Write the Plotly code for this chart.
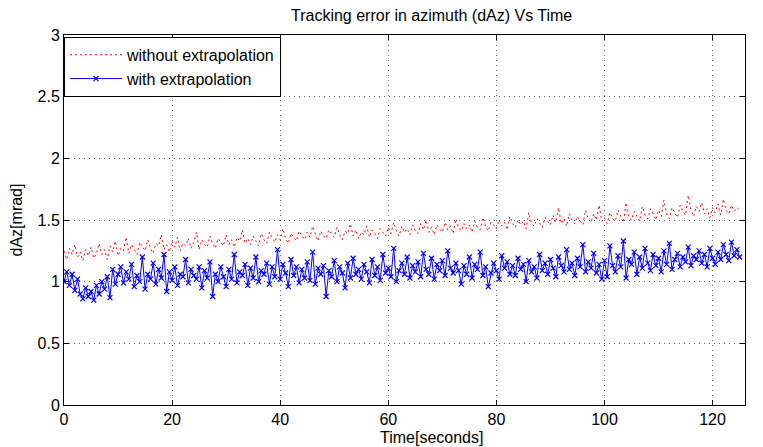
import plotly.graph_objects as go

# time samples (seconds), 0.5 s step
time_s = [i * 0.5 for i in range(251)]

dAz_with = [
    1.00, 1.08, 0.97, 1.06, 0.93, 1.02, 0.90, 0.86, 0.95, 0.88,
    0.92, 0.85, 0.97, 0.90, 1.00, 0.94, 1.04, 0.87, 1.10, 0.98,
    1.06, 1.12, 0.99, 1.08, 1.02, 1.14, 0.96, 1.05, 1.00, 1.20,
    0.94, 1.06, 1.02, 1.15, 0.98, 1.10, 1.03, 1.22, 0.92, 1.08,
    1.01, 1.12, 0.97, 1.06, 1.04, 1.18, 0.99, 1.10, 1.05, 1.02,
    1.12, 0.95, 1.09, 1.03, 1.16, 0.88, 1.06, 1.00, 1.12, 1.04,
    0.96, 1.10, 1.02, 1.22, 0.99, 1.08, 1.05, 1.14, 0.97, 1.11,
    1.03, 1.20, 1.00, 1.09, 1.06, 1.15, 0.98, 1.12, 1.04, 1.26,
    1.02, 1.14, 1.07, 0.96, 1.18, 1.05, 1.12, 0.99, 1.10, 1.03,
    1.16, 1.01, 1.24, 0.98, 1.11, 1.06, 1.13, 0.88, 1.09, 1.04,
    1.17, 1.00, 1.12, 1.07, 0.95, 1.15, 1.03, 1.19, 1.06, 1.10,
    1.02, 1.14, 1.08, 0.99, 1.18, 1.05, 1.12, 1.01, 1.22, 1.07,
    1.11, 1.04, 1.27, 1.00, 1.09, 1.15, 1.06, 1.20, 1.03, 1.13,
    1.08, 1.16, 1.04, 1.23, 1.10, 1.06, 1.19, 1.02, 1.14, 1.09,
    1.17, 1.05, 1.25, 1.11, 1.07, 1.15, 1.09, 0.98, 1.13, 1.06,
    1.20, 1.03, 1.14, 1.10, 1.24, 1.05, 1.12, 0.96, 1.07, 1.15,
    1.09, 1.02, 1.21, 1.11, 1.16, 1.06, 1.13, 1.05, 1.19, 1.10,
    1.14, 1.00, 1.17, 1.08, 1.12, 1.03, 1.22, 1.09, 1.15, 1.06,
    1.18, 1.11, 1.04, 1.20, 1.13, 1.08, 1.26, 1.10, 1.15, 1.05,
    1.19, 1.12, 1.30, 1.08, 1.16, 1.11, 1.23, 1.07, 1.14, 1.02,
    1.17, 1.04, 1.29, 1.13, 1.08, 1.21, 1.12, 1.33, 1.03, 1.18,
    1.14, 1.24, 1.06, 1.20, 1.11, 1.27, 1.15, 1.09, 1.22, 1.13,
    1.19, 1.08, 1.25, 1.14, 1.31, 1.10, 1.18, 1.23, 1.12, 1.20,
    1.16, 1.28, 1.13, 1.21, 1.18, 1.25, 1.15, 1.22, 1.12, 1.27,
    1.19, 1.14, 1.24, 1.18, 1.30, 1.22, 1.17, 1.32, 1.21, 1.26,
    1.20,
]

dAz_without = [
    1.25, 1.18, 1.27, 1.22, 1.30, 1.20, 1.24, 1.17, 1.26, 1.21,
    1.28, 1.19, 1.23, 1.31, 1.22, 1.26, 1.18, 1.29, 1.24, 1.33,
    1.21, 1.27, 1.25, 1.36, 1.23, 1.30, 1.26, 1.22, 1.32, 1.28,
    1.25, 1.34, 1.27, 1.23, 1.31, 1.29, 1.38, 1.26, 1.30, 1.24,
    1.33, 1.28, 1.36, 1.25, 1.31, 1.29, 1.35, 1.27, 1.32, 1.40,
    1.26, 1.34, 1.30, 1.28, 1.37, 1.31, 1.27, 1.35, 1.32, 1.29,
    1.38, 1.30, 1.34, 1.28, 1.36, 1.33, 1.42, 1.31, 1.35, 1.30,
    1.37, 1.33, 1.29, 1.39, 1.34, 1.31, 1.40, 1.36, 1.32, 1.38,
    1.34, 1.43, 1.35, 1.31, 1.39, 1.36, 1.33, 1.41, 1.37, 1.34,
    1.40, 1.36, 1.45, 1.38, 1.33, 1.41, 1.37, 1.35, 1.42, 1.39,
    1.36, 1.44, 1.38, 1.34, 1.41, 1.39, 1.47, 1.37, 1.42, 1.35,
    1.40, 1.38, 1.45, 1.36, 1.42, 1.39, 1.35, 1.43, 1.40, 1.37,
    1.44, 1.39, 1.48, 1.41, 1.37, 1.45, 1.40, 1.43, 1.38, 1.46,
    1.41, 1.39, 1.47, 1.42, 1.50, 1.40, 1.44, 1.38, 1.46, 1.43,
    1.40, 1.48, 1.42, 1.45, 1.39, 1.51, 1.44, 1.41, 1.47, 1.43,
    1.46, 1.40, 1.49, 1.44, 1.42, 1.52, 1.45, 1.41, 1.48, 1.46,
    1.43, 1.50, 1.45, 1.48, 1.42, 1.53, 1.47, 1.44, 1.50, 1.46,
    1.49, 1.43, 1.56, 1.47, 1.45, 1.51, 1.48, 1.44, 1.52, 1.49,
    1.46, 1.54, 1.48, 1.60, 1.47, 1.51, 1.45, 1.55, 1.50, 1.47,
    1.53, 1.49, 1.46, 1.58, 1.51, 1.48, 1.55, 1.50, 1.62, 1.49,
    1.52, 1.47, 1.56, 1.51, 1.49, 1.58, 1.53, 1.48, 1.64, 1.52,
    1.50, 1.57, 1.53, 1.49, 1.61, 1.54, 1.51, 1.59, 1.55, 1.50,
    1.58, 1.53, 1.66, 1.55, 1.51, 1.60, 1.56, 1.52, 1.62, 1.57,
    1.54, 1.70, 1.58, 1.53, 1.61, 1.57, 1.64, 1.55, 1.59, 1.52,
    1.60, 1.56, 1.63, 1.54, 1.67, 1.58, 1.55, 1.62, 1.57, 1.60,
    1.58,
]

x_ticks = [0, 20, 40, 60, 80, 100, 120]
y_ticks = [0, 0.5, 1, 1.5, 2, 2.5, 3]
y_tick_labels = ["0", "0.5", "1", "1.5", "2", "2.5", "3"]

FONT = "Liberation Sans, Arial, sans-serif"

fig = go.Figure()
fig.add_trace(go.Scatter(
    x=time_s, y=dAz_without, mode="lines", name="without extrapolation",
    line=dict(color="#ff0000", width=1, dash="2px,3px"),
))
fig.add_trace(go.Scatter(
    x=time_s, y=dAz_with, mode="lines+markers", name="with extrapolation",
    line=dict(color="#0000ff", width=1),
    marker=dict(symbol="x-thin", size=5, line=dict(color="#0000ff", width=1.2)),
))

axis_common = dict(
    showline=True, linecolor="black", linewidth=1, mirror="ticks",
    ticks="inside", ticklen=5, tickcolor="black",
    showgrid=True, gridcolor="#666666", gridwidth=1, griddash="1px,4px",
    zeroline=False, automargin=False,
    tickfont=dict(family=FONT, size=16, color="black"),
)

# the page body adds an 8px offset; the figure is sized to fit the window
fig.update_layout(
    width=755, height=439,
    margin=dict(l=56, r=18, t=27, b=42),
    paper_bgcolor="white", plot_bgcolor="white",
    font=dict(family=FONT, color="black"),
    xaxis=dict(range=[0, 126], tickvals=x_ticks, **axis_common),
    yaxis=dict(range=[0, 3], tickvals=y_ticks, ticktext=y_tick_labels,
               title=dict(text="dAz[mrad]", standoff=10,
                          font=dict(family=FONT, size=16, color="black")),
               **axis_common),
    legend=dict(x=0.0, y=0.995, xanchor="left", yanchor="top",
                bgcolor="white", bordercolor="black", borderwidth=1,
                font=dict(family=FONT, size=16, color="black"),
                tracegroupgap=0, itemwidth=52),
    showlegend=True,
    annotations=[
        dict(text="Tracking error in azimuth (dAz) Vs Time",
             xref="paper", yref="paper", x=0.54, y=1.0, yshift=20,
             xanchor="center", yanchor="middle", showarrow=False,
             font=dict(family=FONT, size=16, color="black")),
        dict(text="Time[seconds]",
             xref="paper", yref="paper", x=0.54, y=0.0, yshift=-32,
             xanchor="center", yanchor="middle", showarrow=False,
             font=dict(family=FONT, size=16, color="black")),
    ],
)

fig.write_html("out.html")
